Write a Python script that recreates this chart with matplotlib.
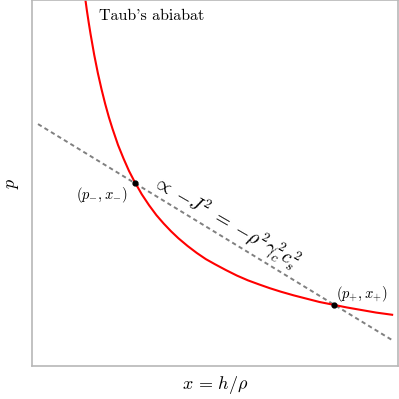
import numpy as np
import matplotlib
matplotlib.use("Agg")
import matplotlib.pyplot as plt

plt.rcParams['mathtext.fontset'] = 'cm'
plt.rcParams['font.family'] = 'serif'
plt.rcParams['font.serif'] = ['cmr10', 'DejaVu Serif']
plt.rcParams['axes.unicode_minus'] = False

# Taub adiabat (x = h/rho, p), axes run 0..1
adiabat_x = [0.146, 0.150, 0.155, 0.160, 0.170, 0.180, 0.190, 0.200, 0.210, 0.220,
             0.235, 0.250, 0.265, 0.280, 0.300, 0.320, 0.340, 0.360, 0.380, 0.400,
             0.425, 0.450, 0.475, 0.500, 0.530, 0.560, 0.590, 0.620, 0.650, 0.680,
             0.715, 0.750, 0.785, 0.820, 0.860, 0.900, 0.940, 0.984]
adiabat_p = [1.000, 0.971, 0.938, 0.907, 0.850, 0.800, 0.756, 0.716, 0.680, 0.648,
             0.604, 0.567, 0.533, 0.504, 0.469, 0.439, 0.412, 0.389, 0.368, 0.349,
             0.328, 0.309, 0.292, 0.278, 0.262, 0.247, 0.234, 0.223, 0.2125, 0.203,
             0.193, 0.184, 0.175, 0.168, 0.160, 0.153, 0.146, 0.140]

# Rayleigh line end points
rayleigh_x = [0.0164, 0.9836]
rayleigh_p = [0.661, 0.071]

# the two states where they cross
state_x = [0.2814, 0.825]
state_p = [0.500, 0.167]
state_labels = [r'$(p_{-},x_{-})$', r'$(p_{+},x_{+})$']

fig = plt.figure(figsize=(3.99, 3.99), dpi=100)
ax = fig.add_axes([32/399, 33/399, 366/399, 366/399])

ax.plot(rayleigh_x, rayleigh_p, color='#808080', lw=1.4, linestyle=(0, (2.2, 1.7)))
ax.plot(adiabat_x, adiabat_p, color='red', lw=1.5)
ax.plot(state_x, state_p, 'o', color='black', ms=3.5, zorder=5)

ax.text(state_x[0] - 0.019, state_p[0] - 0.033, state_labels[0], fontsize=10.5,
        ha='right', va='center')
ax.text(state_x[1] + 0.005, state_p[1] + 0.03, state_labels[1], fontsize=10.5,
        ha='left', va='center')

ax.text(0.183, 0.956, "Taub's abiabat", fontsize=11.5, ha='left', va='center')
ax.text(0.53, 0.393, r'$\propto\; {-}J^2 \;=\; {-}\rho^2\gamma_c^2 c_s^2$', fontsize=14,
        ha='center', va='center', rotation=-30, rotation_mode='anchor')

ax.set_xlim(0, 1)
ax.set_ylim(0, 1)
ax.set_xticks([])
ax.set_yticks([])
for s in ax.spines.values():
    s.set_color('#b8b8b8')
    s.set_linewidth(1.2)

fig.text(215/399, 1 - 385/399, r'$x \,=\, h/\rho$', fontsize=13, ha='center', va='center')
fig.text(13/399, 1 - 183/399, r'$p$', fontsize=13, ha='center', va='center', rotation=90)

fig.savefig('out.png', dpi=100)
